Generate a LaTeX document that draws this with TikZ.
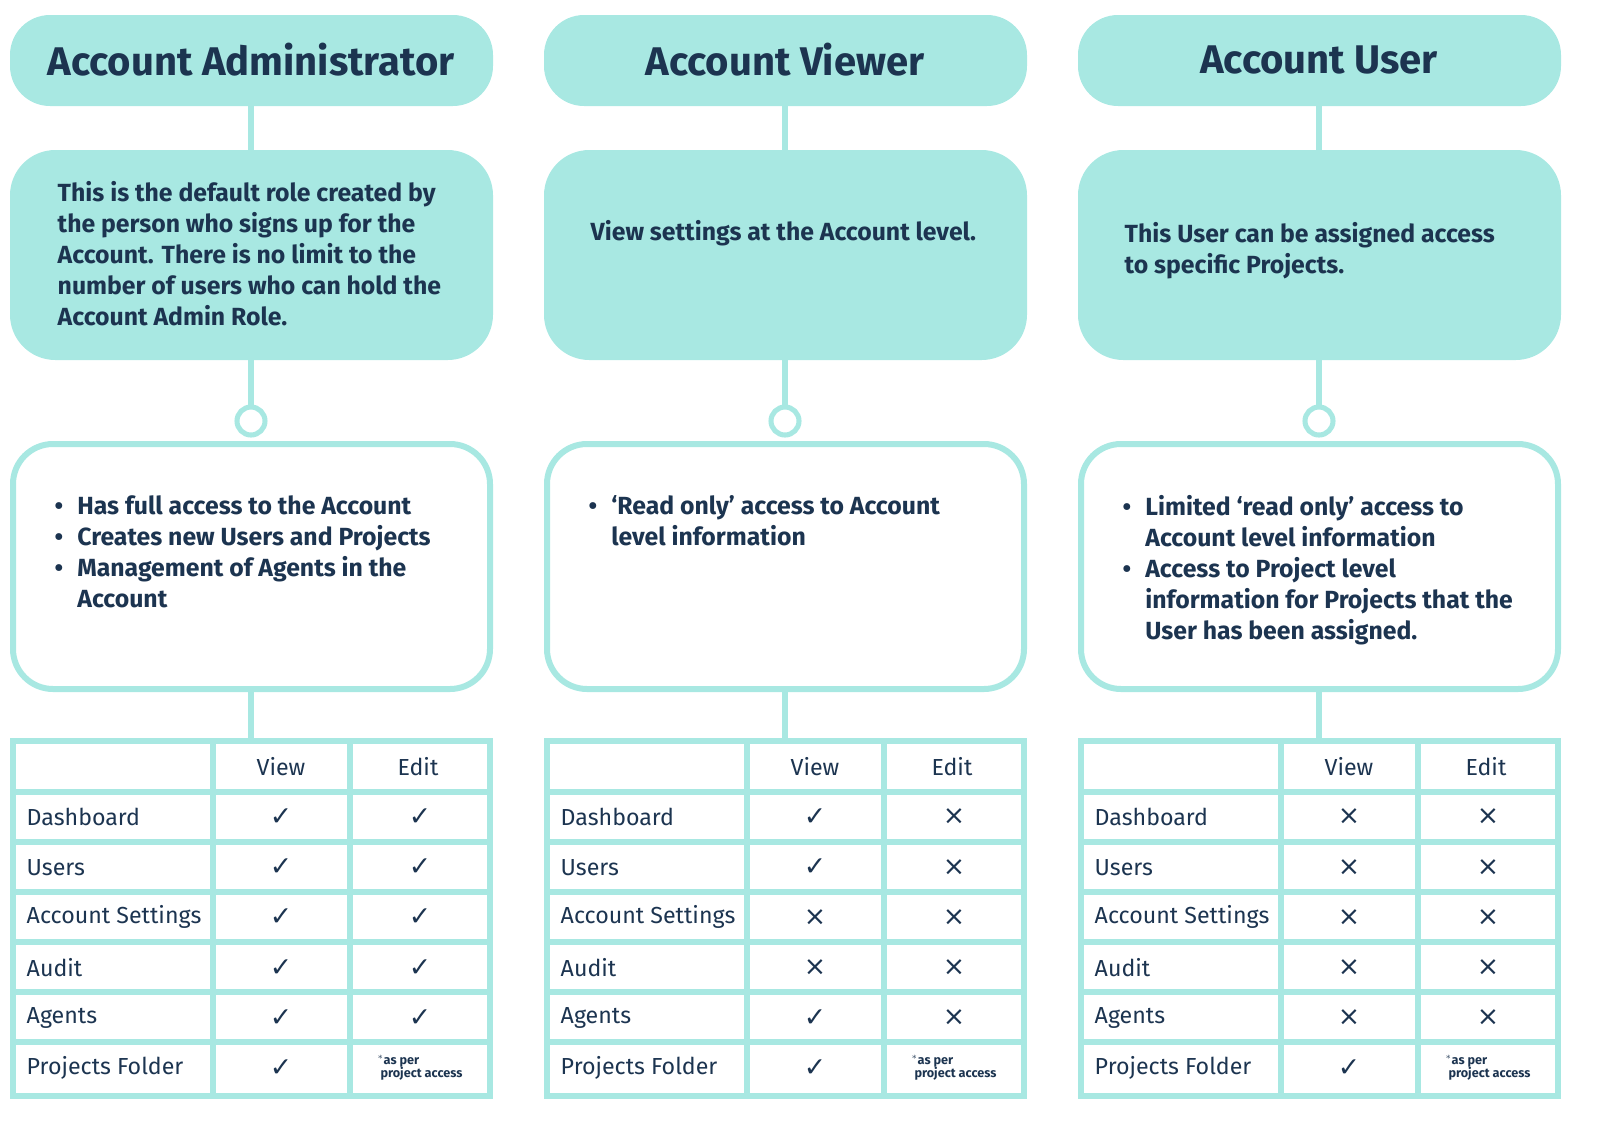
\documentclass[tikz,border=0pt]{standalone}
\usepackage{fontspec}
\setmainfont{Fira Sans}
\newfontfamily\symfont{DejaVu Sans}
\usetikzlibrary{positioning}
\definecolor{roleteal}{RGB}{168,232,226}
\definecolor{rolenavy}{RGB}{28,52,80}
\newcommand{\yes}{{\symfont\fontsize{20}{20}\selectfont ✓}}
\newcommand{\no}{{\symfont\fontsize{20}{20}\selectfont ×}}
\newcommand{\asper}{\fontsize{9.5}{10}\selectfont\bfseries\begin{tabular}[c]{@{}l@{}}$^*$as per\\[-1pt]\ project access\end{tabular}}
\newcommand{\bl}{\makebox[17pt][l]{\textbullet}}
\newcommand{\bi}{\makebox[17pt][l]{}}

\begin{document}
\begin{tikzpicture}[x=0.75pt,y=-0.75pt,
    title/.style={fill=roleteal, rounded corners=30pt, text=rolenavy, font=\fontsize{30}{36}\selectfont\bfseries},
    desc/.style={fill=roleteal, rounded corners=34pt},
    bullets/.style={draw=roleteal, line width=4.5pt, fill=white, rounded corners=30pt},
    link/.style={draw=roleteal, line width=4.5pt},
    body/.style={text=rolenavy, align=left, font=\fontsize{18.6}{23.25}\selectfont\bfseries},
    cell/.style={text=rolenavy, font=\fontsize{17.4}{20}\selectfont}]
  \useasboundingbox (0,0) rectangle (1600,1133);

  % three panels
  \foreach \i/\role in {0/Account Administrator,1/Account Viewer,2/Account User}{
    \pgfmathsetmacro{\xa}{10+534*\i}
    \pgfmathsetmacro{\cx}{\xa+241}
    \path[title] (\xa,15) rectangle ++(483,91);
    \node[text=rolenavy, font=\fontsize{30}{36}\selectfont\bfseries] (title\i) at (\cx,60) {\role};
    \draw[link] (\cx,106) -- (\cx,150);
    \path[desc] (\xa,150) rectangle ++(483,210);
    \draw[link] (\cx,360) -- (\cx,407);
    \draw[link, line width=3.8pt] (\cx,421) circle (14);
    \draw[link] (\cx,690) -- (\cx,740);
    \draw[bullets] (\xa+3,444) rectangle ++(477,245);
    % table
    \draw[link] (\xa+3,741) rectangle ++(477,355);
    \foreach \gx in {203,340} \draw[link] (\xa+\gx,741) -- ++(0,355);
    \foreach \gy in {792,842,892,942,992,1042} \draw[link] (\xa+3,\gy) -- ++(477,0);
    \node[cell] (view\i) at (\xa+271,767) {View};
    \node[cell] (edit\i) at (\xa+408,767) {Edit};
  }

  % descriptions
  \node[body, anchor=north west] (desc0) at (53,177) {This is the default role created by\\the person who signs up for the\\Account. There is no limit to the\\number of users who can hold the\\Account Admin Role.};
  \node[body, anchor=west] (desc1) at (586,233) {View settings at the Account level.};
  \node[body, anchor=north west] (desc2) at (1120,218) {This User can be assigned access\\to specific Projects.};

  % bullet lists
  \node[body, anchor=north west] (list0) at (50,491) {\bl Has full access to the Account\\\bl Creates new Users and Projects\\\bl Management of Agents in the\\\bi Account};
  \node[body, anchor=north west] (list1) at (584,491) {\bl ‘Read only’ access to Account\\\bi level information};
  \node[body, anchor=north west] (list2) at (1118,491) {\bl Limited ‘read only’ access to\\\bi Account level information\\\bl Access to Project level\\\bi information for Projects that the\\\bi User has been assigned.};

  % table rows: label / admin view, edit / viewer view, edit / user view, edit
  \foreach \r/\lbl/\a/\b/\c/\d/\e/\f in {
      0/Dashboard/\yes/\yes/\yes/\no/\no/\no,
      1/Users/\yes/\yes/\yes/\no/\no/\no,
      2/Account Settings/\yes/\yes/\no/\no/\no/\no,
      3/Audit/\yes/\yes/\no/\no/\no/\no,
      4/Agents/\yes/\yes/\yes/\no/\no/\no,
      5/Projects Folder/\yes/\asper/\yes/\asper/\yes/\asper}{
    \pgfmathsetmacro{\ry}{817+50.2*\r}
    \foreach \i/\v/\w in {0/\a/\b,1/\c/\d,2/\e/\f}{
      \pgfmathsetmacro{\xa}{10+534*\i}
      \node[cell, anchor=west] (row\i-\r) at (\xa+12,\ry) {\lbl};
      \node[cell] (v\i-\r) at (\xa+271,\ry) {\v};
      \node[cell] (e\i-\r) at (\xa+410,\ry) {\w};
    }
  }
\end{tikzpicture}
\end{document}
